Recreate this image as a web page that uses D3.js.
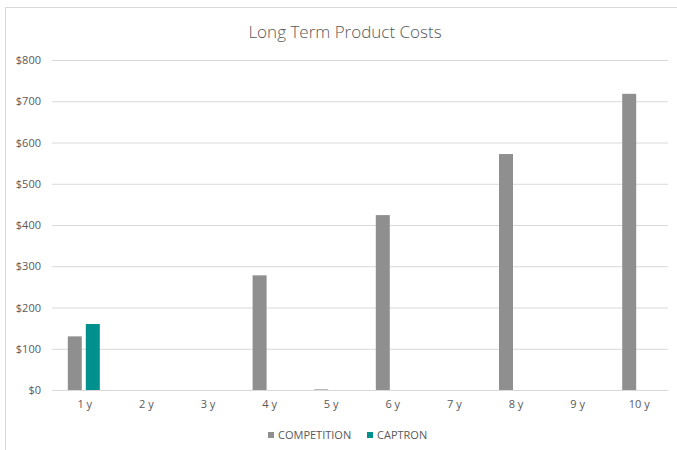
<!DOCTYPE html>
<html><head><meta charset="utf-8">
<script src="https://cdn.jsdelivr.net/npm/d3@7"></script>
<style>
html,body{margin:0;padding:0;background:#fff;}
svg text{font-family:"Open Sans","Liberation Sans",sans-serif;fill:#595959;}
</style></head>
<body>
<svg id="chart" width="677" height="450"></svg>
<script>
const title = "Long Term Product Costs";
const categories = ["1 y","2 y","3 y","4 y","5 y","6 y","7 y","8 y","9 y","10 y"];
const seriesNames = ["COMPETITION","CAPTRON"];
const competition = [130,0,0,278,1.5,424,0,572,0,718];
const captron = [160,0,0,0,0,0,0,0,0,0];
const yTicks = [0,100,200,300,400,500,600,700,800];
const colors = ["#8f8f8f","#00918e"];

const svg = d3.select("#chart");
const W = 677, H = 450;
const m = {left:52, right:9, top:60, bottom:60};

// chart border (cropped frame)
svg.append("path").attr("d", `M5.5,${H} V7.5 H${W}`).attr("fill","none").attr("stroke","#d9d9d9").attr("stroke-width",1);

const x0 = d3.scaleBand().domain(categories).range([m.left, W - m.right]).paddingInner(0).paddingOuter(0);
const x1 = d3.scaleBand().domain(seriesNames).range([-15, 17]).paddingInner(4/18);
const y = d3.scaleLinear().domain([0,800]).range([390, 60]);

// gridlines
const yAxis = d3.axisLeft(y).tickValues(yTicks).tickSize(-(W - m.right - m.left)).tickFormat(d => "$" + d);
const gy = svg.append("g").attr("transform", `translate(${m.left},0)`).call(yAxis);
gy.select(".domain").remove();
gy.selectAll(".tick line").attr("stroke","#d9d9d9").attr("stroke-width",1);
gy.selectAll(".tick text").attr("x",-11).attr("font-size","11px").style("fill","#595959");

// bars
const data = categories.map((c,i) => ({cat:c, vals:[{s:seriesNames[0], v:competition[i], col:colors[0]},{s:seriesNames[1], v:captron[i], col:colors[1]}]}));
const groups = svg.append("g").selectAll("g").data(data).join("g")
  .attr("transform", d => `translate(${x0(d.cat) + x0.bandwidth()/2},0)`);
groups.selectAll("rect").data(d => d.vals.filter(v => v.v > 0)).join("rect")
  .attr("x", d => x1(d.s))
  .attr("width", x1.bandwidth())
  .attr("y", d => y(d.v))
  .attr("height", d => y(0) - y(d.v))
  .attr("fill", d => d.col);

// x axis
const xAxis = d3.axisBottom(x0).tickSize(0).tickPadding(10);
const gx = svg.append("g").attr("transform", `translate(0,390)`).call(xAxis);
gx.select(".domain").attr("stroke","#d9d9d9");
gx.selectAll(".tick text").attr("font-size","11px").attr("dx","2").style("fill","#595959");

// title
svg.append("text").attr("x", 345).attr("y", 38).attr("text-anchor","middle")
  .attr("font-size","17px").style("font-weight","300").text(title);

// legend
const legendX = [268, 367];
const lg = svg.append("g").selectAll("g").data(seriesNames).join("g")
  .attr("transform", (d,i) => `translate(${legendX[i]},432)`);
lg.append("rect").attr("width",6).attr("height",6).attr("fill",(d,i)=>colors[i]);
lg.append("text").attr("x",10).attr("y",7).attr("font-size","11px").text(d=>d);
</script>
</body></html>
